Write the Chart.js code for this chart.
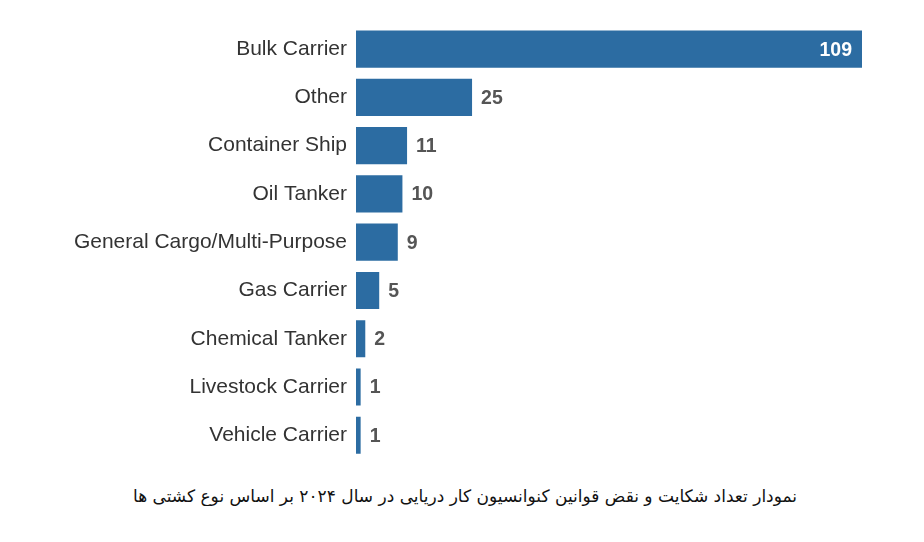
<!DOCTYPE html>
<html>
<head>
<meta charset="utf-8">
<script src="https://cdn.jsdelivr.net/npm/chart.js@4"></script>
<style>
  html, body { margin: 0; padding: 0; background: #fff; }
  #wrap { position: relative; width: 924px; height: 481px; }
  #caption {
    width: 924px; text-align: center; direction: rtl;
    font-family: 'DejaVu Sans', 'Noto Sans', sans-serif; font-size: 17px; color: #111;
    margin-top: 5px; padding-left: 6px; box-sizing: border-box;
  }
</style>
</head>
<body>
<div id="wrap"><canvas id="shipChart"></canvas></div>
<div id="caption">نمودار تعداد شکایت و نقض قوانین کنوانسیون کار دریایی در سال ۲۰۲۴ بر اساس نوع کشتی ها</div>
<script>
const shipTypes = ['Bulk Carrier', 'Other', 'Container Ship', 'Oil Tanker', 'General Cargo/Multi-Purpose', 'Gas Carrier', 'Chemical Tanker', 'Livestock Carrier', 'Vehicle Carrier'];
const complaints = [109, 25, 11, 10, 9, 5, 2, 1, 1];

const barColor = '#2c6ca2';

// value labels: outside the bar, except the long one which goes inside
const valueLabels = {
  id: 'valueLabels',
  afterDatasetsDraw(chart) {
    const { ctx } = chart;
    const meta = chart.getDatasetMeta(0);
    ctx.save();
    ctx.font = 'bold 19.5px "Liberation Sans", Arial, sans-serif';
    ctx.textBaseline = 'middle';
    meta.data.forEach((bar, i) => {
      const v = complaints[i];
      if (bar.x - bar.base > 200) {
        ctx.fillStyle = '#fff';
        ctx.textAlign = 'right';
        ctx.fillText(String(v), bar.x - 10, bar.y + 1);
      } else {
        ctx.fillStyle = '#555';
        ctx.textAlign = 'left';
        ctx.fillText(String(v), bar.x + 9, bar.y + 1);
      }
    });
    ctx.restore();
  },
};

new Chart(document.getElementById('shipChart'), {
  type: 'bar',
  data: {
    labels: shipTypes,
    datasets: [{ data: complaints, backgroundColor: barColor, barPercentage: 0.77, categoryPercentage: 1 }],
  },
  options: {
    indexAxis: 'y',
    responsive: true,
    maintainAspectRatio: false,
    animation: false,
    layout: { padding: { top: 25, bottom: 12, right: 62, left: 0 } },
    scales: {
      x: { display: false, min: 0, max: 109 },
      y: {
        grid: { display: false, drawTicks: false },
        border: { display: false },
        ticks: { color: '#333', padding: 9, font: { size: 21, family: '"Liberation Sans", Arial, sans-serif' } },
        afterFit: axis => { axis.width = 356; },
      },
    },
    plugins: { legend: { display: false }, tooltip: { enabled: false } },
  },
  plugins: [valueLabels],
});
</script>
</body>
</html>
